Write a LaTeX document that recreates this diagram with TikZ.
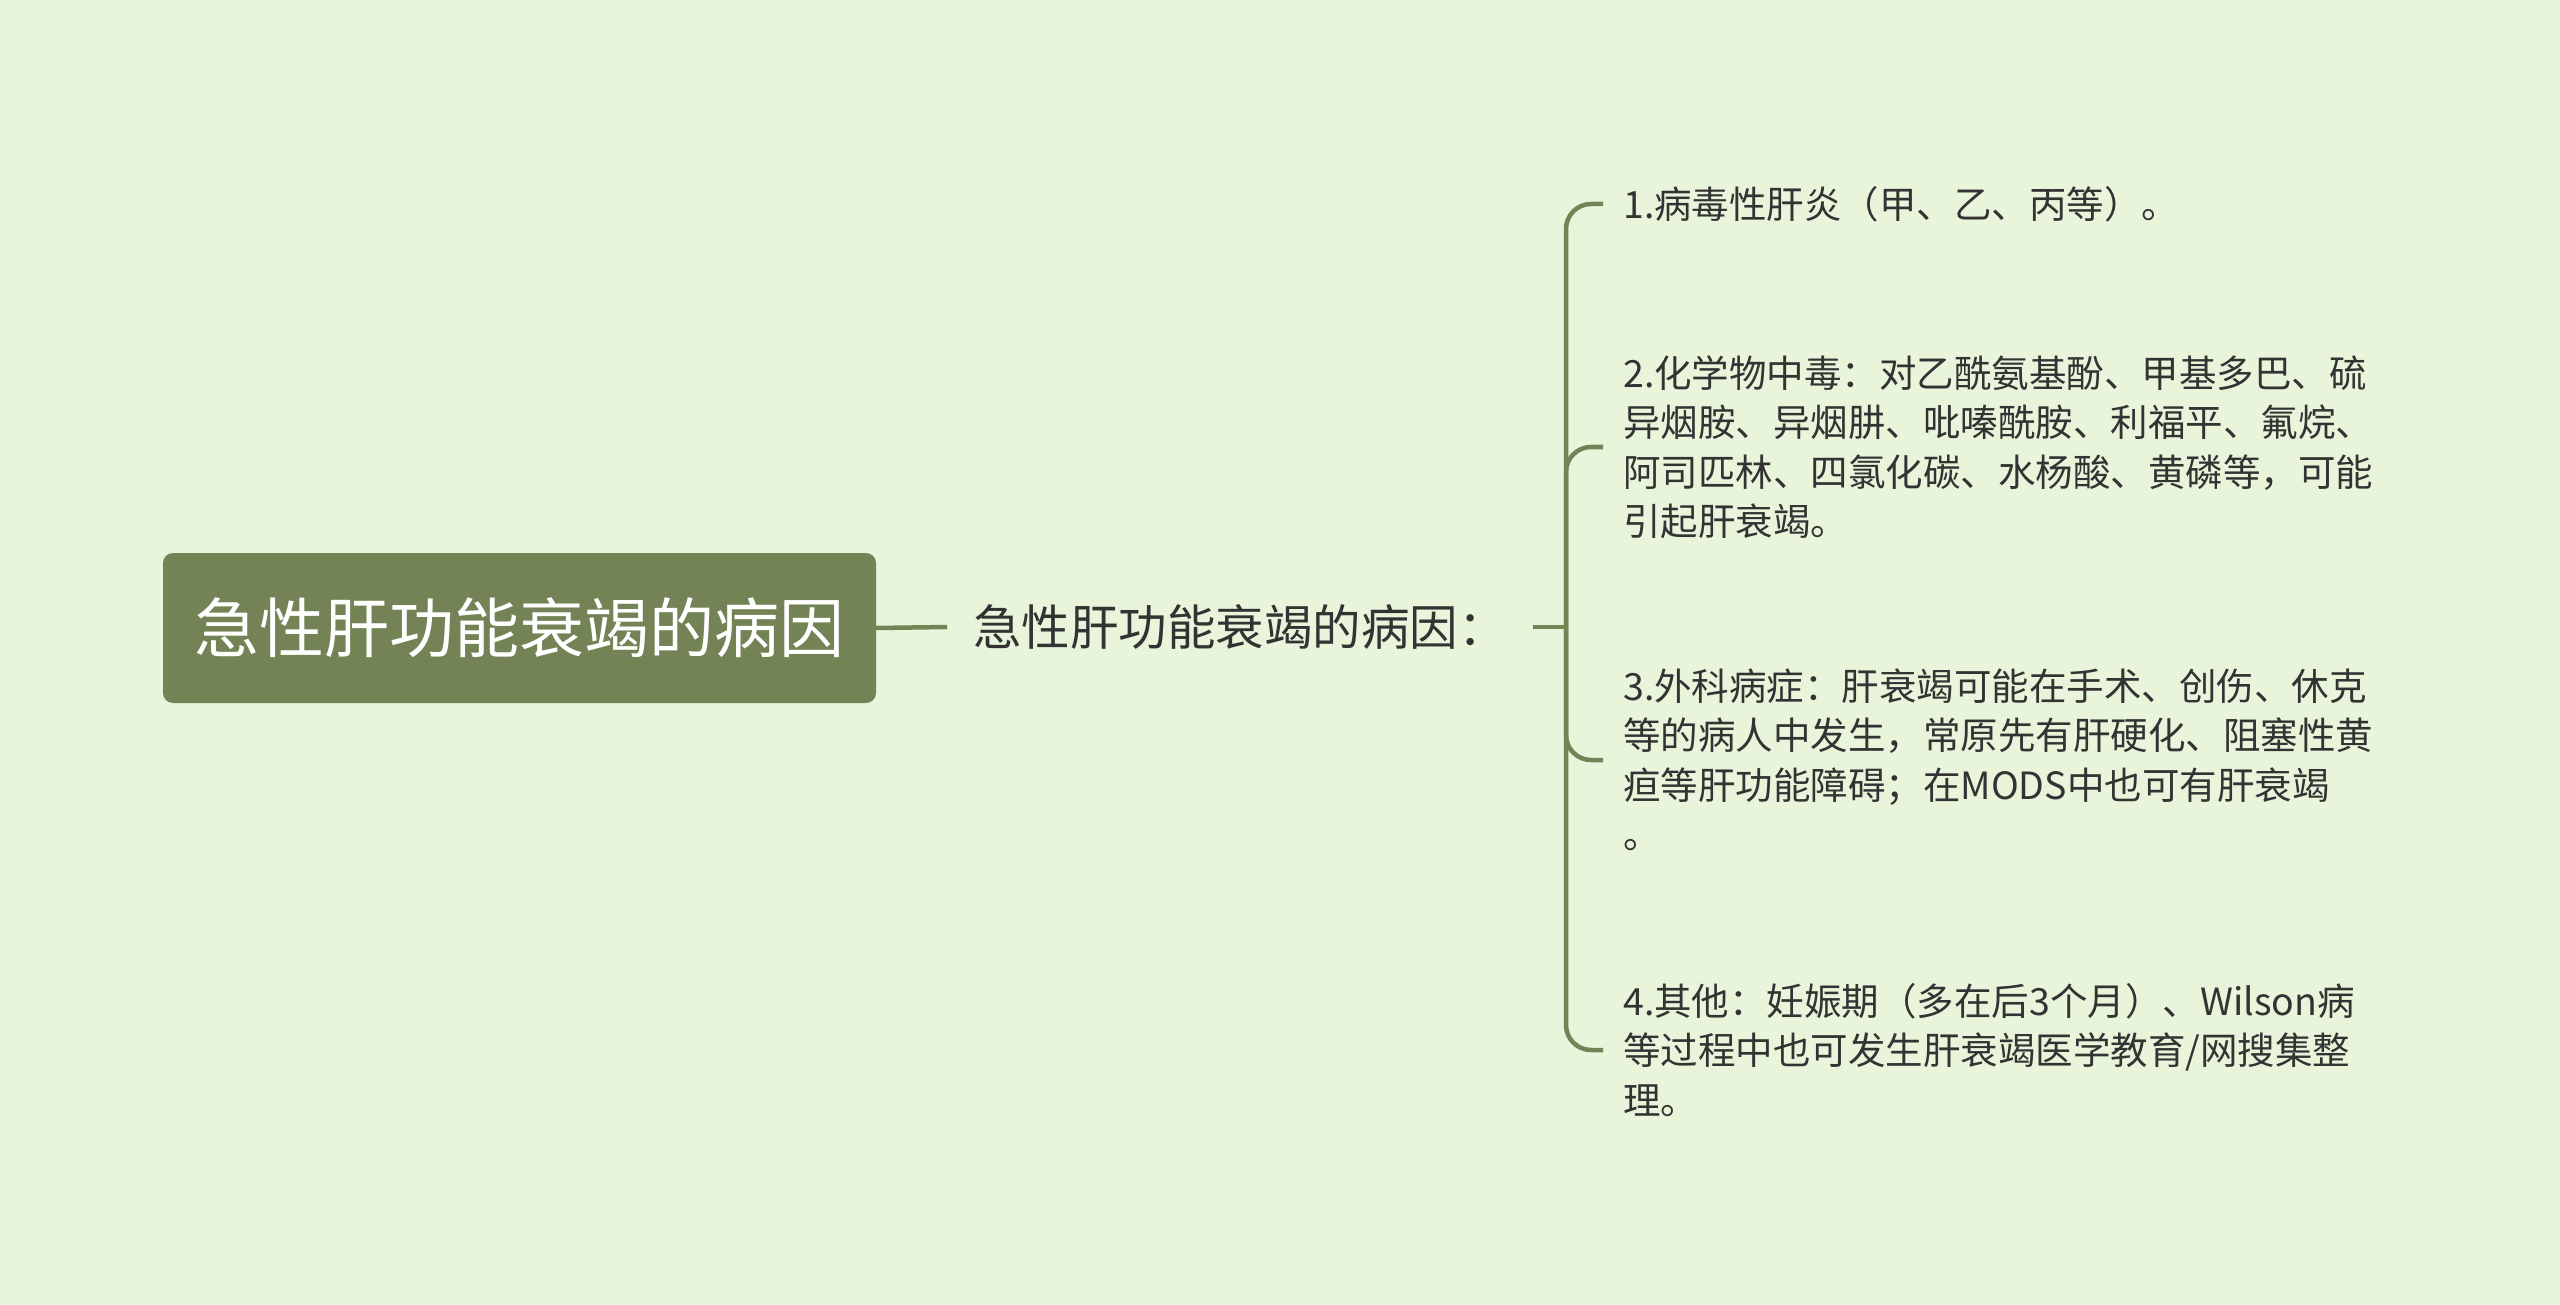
\documentclass[tikz,border=0pt]{standalone}
\usepackage{fontspec}
\setmainfont{Noto Sans CJK SC}
\usepackage{tikz}
\definecolor{bg}{RGB}{233, 245, 219}
\definecolor{moss}{RGB}{116, 131, 86}
\definecolor{ink}{RGB}{51, 51, 51}
\usetikzlibrary{positioning}
\tikzset{
  rootbox/.style={rectangle, rounded corners=10pt, fill=moss, text=white, inner sep=0pt, minimum width=713pt, minimum height=150pt, font=\fontsize{65}{78}\selectfont},
  subtopic/.style={anchor=west, inner xsep=26pt, inner ysep=0pt, text=ink, font=\fontsize{48.5}{58}\selectfont},
  cause/.style={anchor=west, inner xsep=20pt, inner ysep=0pt, text=ink, align=left, font=\fontsize{37.5}{49.5}\selectfont},
  branch/.style={draw=moss, line width=4.5pt},
}

\begin{document}
\begin{tikzpicture}
\fill [bg] (0pt, 0pt) rectangle (2560pt, -1305pt);
\useasboundingbox (0pt, 0pt) rectangle (2560pt, -1305pt);
\node (root) [rootbox] at (519.5pt, -628pt) {急性肝功能衰竭的病因};
\node (sub) [subtopic] at (947pt, -627pt) {急性肝功能衰竭的病因：};
\coordinate (hub) at (1566pt, -627pt);
\node (c1) [cause] at (1603pt, -204pt) {1.病毒性肝炎（甲、乙、丙等）。};
\node (c2) [cause] at (1603pt, -447pt) {2.化学物中毒：对乙酰氨基酚、甲基多巴、硫\\异烟胺、异烟肼、吡嗪酰胺、利福平、氟烷、\\阿司匹林、四氯化碳、水杨酸、黄磷等，可能\\引起肝衰竭。};
\node (c3) [cause] at (1603pt, -760pt) {3.外科病症：肝衰竭可能在手术、创伤、休克\\等的病人中发生，常原先有肝硬化、阻塞性黄\\疸等肝功能障碍；在MODS中也可有肝衰竭\\。};
\node (c4) [cause] at (1603pt, -1050pt) {4.其他：妊娠期（多在后3个月）、Wilson病\\等过程中也可发生肝衰竭医学教育/网搜集整\\理。};
\draw [branch] (root.east) -- (sub.west);
\draw [branch] (sub.east) -- (hub);
\draw [branch, rounded corners=25pt] (hub) |- (c1.west);
\draw [branch, rounded corners=25pt] (hub) |- (c2.west);
\draw [branch, rounded corners=25pt] (hub) |- (c3.west);
\draw [branch, rounded corners=25pt] (hub) |- (c4.west);
\end{tikzpicture}
\end{document}
